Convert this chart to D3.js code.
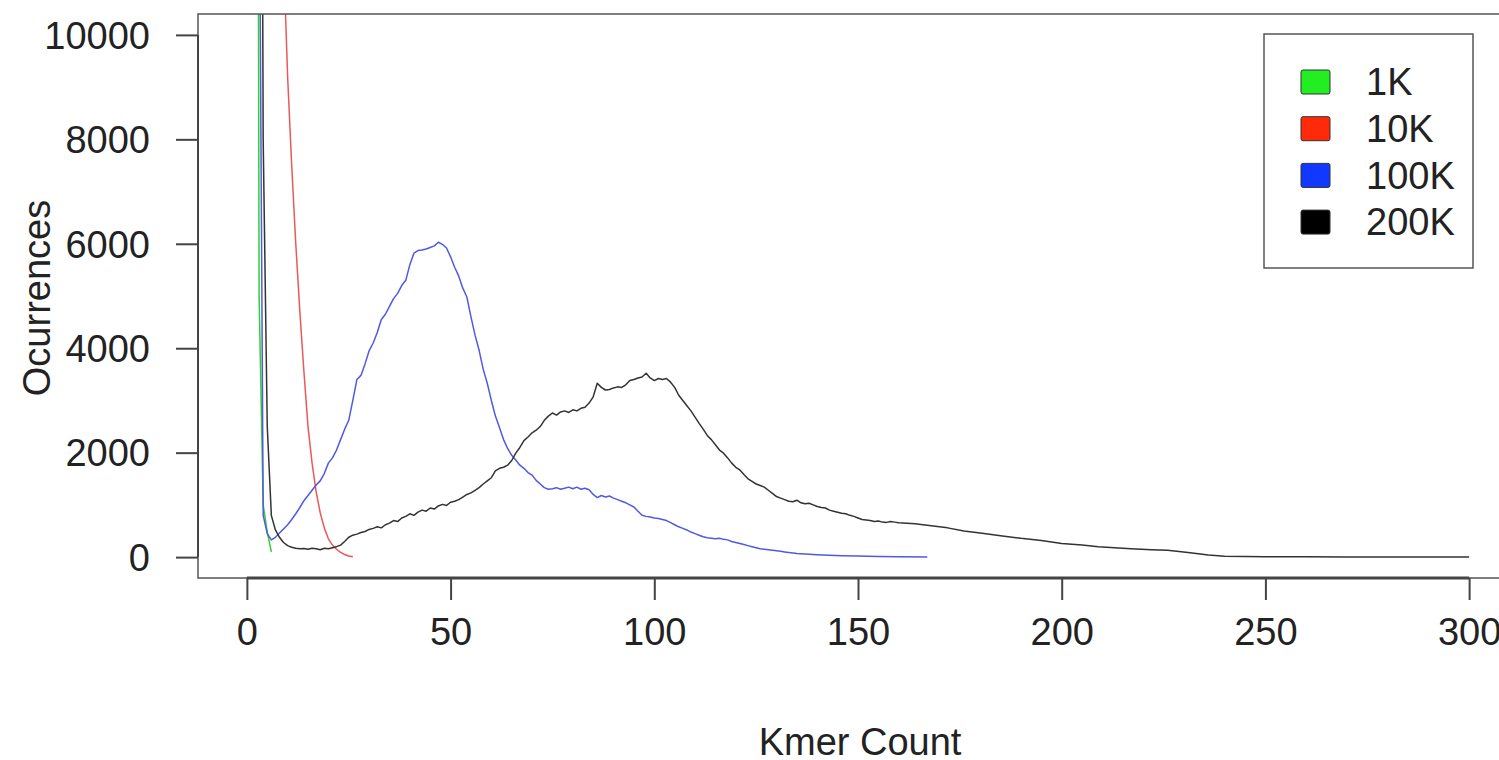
<!DOCTYPE html>
<html>
<head>
<meta charset="utf-8">
<script src="https://cdn.jsdelivr.net/npm/d3@7"></script>
<style>
  body { margin: 0; background: #fff; }
  text { font-family: "Liberation Sans", Arial, sans-serif; fill: #222; }
</style>
</head>
<body>
<div id="chart"></div>
<script>
// kmer count histograms, one per sample size
const seriesNames = ["1K", "10K", "100K", "200K"];
const seriesColors = ["#2fd22f", "#e85a5a", "#4f5ae2", "#333333"];
const legendFill = ["#22ee22", "#ff2a0a", "#1038ff", "#000000"];

const xTicks = [0, 50, 100, 150, 200, 250, 300];
const yTicks = [0, 2000, 4000, 6000, 8000, 10000];

const k1X = [2, 3, 4, 5, 6];
const k1Y = [40000, 5000, 1000, 480, 100];

const k10X = d3.range(9, 27);
const k10Y = [11500, 9200, 7500, 6000, 4700, 3550, 2500, 1800, 1250, 850, 560, 350, 230, 150, 90, 50, 20, 5];

const k100X = d3.range(2, 141).concat([143, 146, 150, 155, 160, 167]);
const k100Y = [
  60000, 14000, 800, 450, 330, 380, 460, 540, 620, 720, // 2-11
  830, 950, 1080, 1180, 1280, 1380, 1460, 1600, 1800, 1900, // 12-21
  2050, 2250, 2450, 2620, 3000, 3400, 3480, 3700, 3950, 4100, // 22-31
  4300, 4550, 4650, 4800, 4950, 5050, 5200, 5300, 5600, 5820, // 32-41
  5870, 5880, 5900, 5930, 5960, 6030, 5990, 5920, 5750, 5550, // 42-51
  5380, 5150, 4980, 4600, 4250, 3960, 3600, 3330, 3000, 2700, // 52-61
  2480, 2250, 2080, 1950, 1860, 1760, 1700, 1620, 1570, 1470, // 62-71
  1400, 1330, 1300, 1310, 1330, 1300, 1320, 1340, 1310, 1340, // 72-81
  1300, 1320, 1290, 1200, 1140, 1180, 1150, 1170, 1130, 1100, // 82-91
  1070, 1040, 1000, 960, 880, 800, 780, 770, 750, 740, // 92-101
  720, 700, 660, 620, 580, 550, 520, 480, 450, 420, // 102-111
  390, 370, 360, 350, 360, 340, 330, 300, 280, 260, // 112-121
  240, 220, 200, 180, 160, 150, 140, 130, 120, 110, // 122-131
  100, 90, 80, 70, 65, 60, 55, 50, 45, // 132-140
  35, 28, 20, 14, 8, 4
];

const k200X = d3.range(2, 161).concat([164, 168, 172, 176, 180, 185, 190, 195, 200, 205, 209, 213, 217, 222, 226, 231, 236, 240, 245, 250, 260, 270, 280, 290, 300]);
const k200Y = [
  80000, 30000, 8000, 2500, 800, 520, 380, 280, 220, 190, // 2-11
  170, 160, 165, 150, 170, 160, 140, 170, 160, 180, // 12-21
  200, 230, 300, 380, 420, 440, 470, 490, 530, 550, // 22-31
  580, 560, 620, 650, 700, 680, 750, 780, 830, 800, // 32-41
  860, 900, 880, 940, 920, 980, 1010, 990, 1050, 1070, // 42-51
  1100, 1150, 1200, 1230, 1280, 1330, 1400, 1460, 1520, 1650, // 52-61
  1700, 1720, 1760, 1850, 1990, 2100, 2230, 2300, 2380, 2430, // 62-71
  2500, 2620, 2700, 2760, 2720, 2780, 2800, 2770, 2820, 2800, // 72-81
  2850, 2870, 2950, 3070, 3330, 3250, 3200, 3210, 3240, 3260, // 82-91
  3250, 3300, 3380, 3400, 3430, 3450, 3520, 3430, 3380, 3420, // 92-101
  3400, 3420, 3350, 3250, 3100, 3000, 2900, 2800, 2680, 2560, // 102-111
  2450, 2330, 2250, 2150, 2050, 1990, 1900, 1800, 1720, 1670, // 112-121
  1580, 1500, 1450, 1400, 1370, 1340, 1280, 1220, 1160, 1130, // 122-131
  1100, 1070, 1060, 1090, 1040, 1020, 1030, 1000, 970, 950, // 132-141
  940, 900, 880, 860, 840, 830, 800, 780, 750, 720, // 142-151
  710, 700, 680, 690, 670, 665, 680, 670, 660, // 152-160
  640, 600, 560, 500, 460, 410, 360, 320, 260, 230, 200, 180, 160, 140, 130, 90, 40, 15, 10, 8, 5, 3, 2, 1, 0
];

const series = [
  { x: k1X, y: k1Y },
  { x: k10X, y: k10Y },
  { x: k100X, y: k100Y },
  { x: k200X, y: k200Y }
];

var width = 1499, height = 760;
var plotL = 198, plotR = 1518, plotT = 14, plotB = 578;

var x = d3.scaleLinear().domain([-12, 312]).range([plotL, plotR]);
var y = d3.scaleLinear().domain([-400, 10400]).range([plotB, plotT]);

var svg = d3.select("#chart").append("svg")
    .attr("width", width)
    .attr("height", height);

svg.append("defs").append("clipPath").attr("id", "plot")
  .append("rect")
    .attr("x", plotL).attr("y", plotT)
    .attr("width", plotR - plotL).attr("height", plotB - plotT);

var line = d3.line()
    .x(d => x(d[0]))
    .y(d => y(d[1]));

var lines = svg.append("g").attr("clip-path", "url(#plot)");
series.forEach(function (s, i) {
    lines.append("path")
        .datum(s.x.map((v, j) => [v, s.y[j]]))
        .attr("d", line)
        .attr("fill", "none")
        .attr("stroke", seriesColors[i])
        .attr("stroke-width", 1.5)
        .attr("stroke-linejoin", "round");
});

// box round the plot
svg.append("rect")
    .attr("x", plotL).attr("y", plotT)
    .attr("width", plotR - plotL).attr("height", plotB - plotT)
    .attr("fill", "none")
    .attr("stroke", "#555")
    .attr("stroke-width", 1.5);

// axes, R style
var xAxis = d3.axisBottom(x).tickValues(xTicks).tickSize(22).tickPadding(18).tickFormat(d3.format("d"));
var gx = svg.append("g").attr("transform", "translate(0," + plotB + ")").call(xAxis);
gx.select(".domain").attr("d", "M" + x(0) + ",0H" + x(300)).attr("stroke", "#444").attr("stroke-width", 3);

var yAxis = d3.axisLeft(y).tickValues(yTicks).tickSize(22).tickPadding(26).tickFormat(d3.format("d"));
var gy = svg.append("g").attr("transform", "translate(" + plotL + ",0)").call(yAxis);
gy.select(".domain").attr("d", "M0," + y(0) + "V" + y(10000)).attr("stroke", "#444").attr("stroke-width", 2);

svg.selectAll(".tick line").attr("stroke", "#444").attr("stroke-width", 2);
svg.selectAll(".tick text").style("font-size", "38px").attr("fill", "#222");
gy.selectAll(".tick text").attr("dy", "0.35em");

svg.append("text")
    .attr("x", 860).attr("y", 755)
    .attr("text-anchor", "middle")
    .style("font-size", "38px")
    .text("Kmer Count");

svg.append("text")
    .attr("transform", "translate(50,298) rotate(-90)")
    .attr("text-anchor", "middle")
    .style("font-size", "38px")
    .text("Ocurrences");

// legend
var lg = svg.append("g");
lg.append("rect")
    .attr("x", 1264).attr("y", 34)
    .attr("width", 209).attr("height", 234)
    .attr("fill", "#fff")
    .attr("stroke", "#555")
    .attr("stroke-width", 1.5);

seriesNames.forEach(function (name, i) {
    var cy = 82 + i * 46.7;
    lg.append("rect")
        .attr("x", 1301).attr("y", cy - 12)
        .attr("width", 29).attr("height", 24)
        .attr("rx", 2)
        .attr("fill", legendFill[i])
        .attr("stroke", "#333")
        .attr("stroke-width", 1);
    lg.append("text")
        .attr("x", 1366).attr("y", cy)
        .attr("dy", "0.35em")
        .style("font-size", "38px")
        .text(name);
});
</script>
</body>
</html>
